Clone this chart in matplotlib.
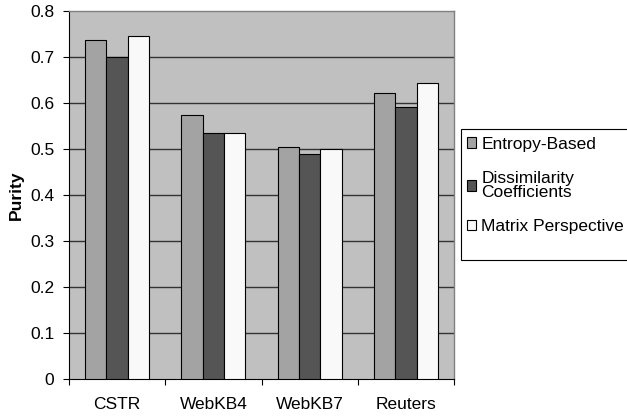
import matplotlib
matplotlib.use("Agg")
import matplotlib.pyplot as plt
from matplotlib.patches import Rectangle
import numpy as np

categories = ["CSTR", "WebKB4", "WebKB7", "Reuters"]
series_names = ["Entropy-Based", "Dissimilarity\nCoefficients", "Matrix Perspective"]
entropy = [0.738, 0.575, 0.504, 0.622]
dissim = [0.699, 0.534, 0.490, 0.592]
matrix = [0.745, 0.534, 0.501, 0.644]
yticks = [0, 0.1, 0.2, 0.3, 0.4, 0.5, 0.6, 0.7, 0.8]
ytick_labels = ["0", "0.1", "0.2", "0.3", "0.4", "0.5", "0.6", "0.7", "0.8"]

colors = ["#A3A3A3", "#555555", "#F9F9F9"]

plt.rcParams["font.family"] = ["Liberation Sans", "DejaVu Sans"]
FS = 12.5

W, H = 627, 416
fig = plt.figure(figsize=(W / 100, H / 100), dpi=100)
ax = fig.add_axes([69 / W, 1 - 379 / H, (454 - 69) / W, (379 - 11) / H])
ax.set_facecolor("#C0C0C0")

x = np.arange(len(categories))
bw = 1 / 4.5
for i, (vals, c, name) in enumerate(zip([entropy, dissim, matrix], colors, series_names)):
    ax.bar(x + (i - 1) * bw, vals, width=bw, color=c, edgecolor="black",
           linewidth=0.8, label=name, zorder=3)

ax.set_xlim(-0.5, len(categories) - 0.5)
ax.set_ylim(0, 0.8)
ax.set_yticks(yticks)
ax.set_yticklabels(ytick_labels, fontsize=FS)
for yv in yticks[1:-1]:
    ax.axhline(yv, color="#333333", linewidth=1.0, zorder=1)

ax.set_xticks(np.arange(len(categories) + 1) - 0.5, minor=False)
ax.set_xticklabels([""] * (len(categories) + 1))
ax.set_xticks(x, minor=True)
ax.set_xticklabels(categories, minor=True, fontsize=FS)
ax.tick_params(axis="x", which="major", direction="out", length=4, width=0.8, color="black")
ax.tick_params(axis="x", which="minor", length=0, pad=13)
ax.tick_params(axis="y", direction="out", length=4.5, width=0.8, color="black", pad=6)

for s in ["top", "right"]:
    ax.spines[s].set_color("#808080")
    ax.spines[s].set_linewidth(1.0)
for s in ["left", "bottom"]:
    ax.spines[s].set_color("black")
    ax.spines[s].set_linewidth(0.8)

ax.set_ylabel("Purity", fontsize=FS, fontweight="bold")
ax.yaxis.set_label_coords((24 - 69) / (454 - 69), 0.5)

# legend frame
fig.patches.append(Rectangle((461 / W, 1 - 260 / H), (700 - 461) / W, (260 - 129) / H,
                             transform=fig.transFigure, facecolor="white",
                             edgecolor="black", linewidth=0.8, zorder=1))
leg = fig.legend(loc="upper left", bbox_to_anchor=(464 / W, 1 - 134 / H),
                 frameon=False, fontsize=FS, handlelength=0.55, handleheight=0.55,
                 handletextpad=0.3, labelspacing=1.12, borderpad=0.15,
                 borderaxespad=0)
for t in leg.get_texts():
    t.set_linespacing(0.9)

fig.savefig("out.png", dpi=100)
